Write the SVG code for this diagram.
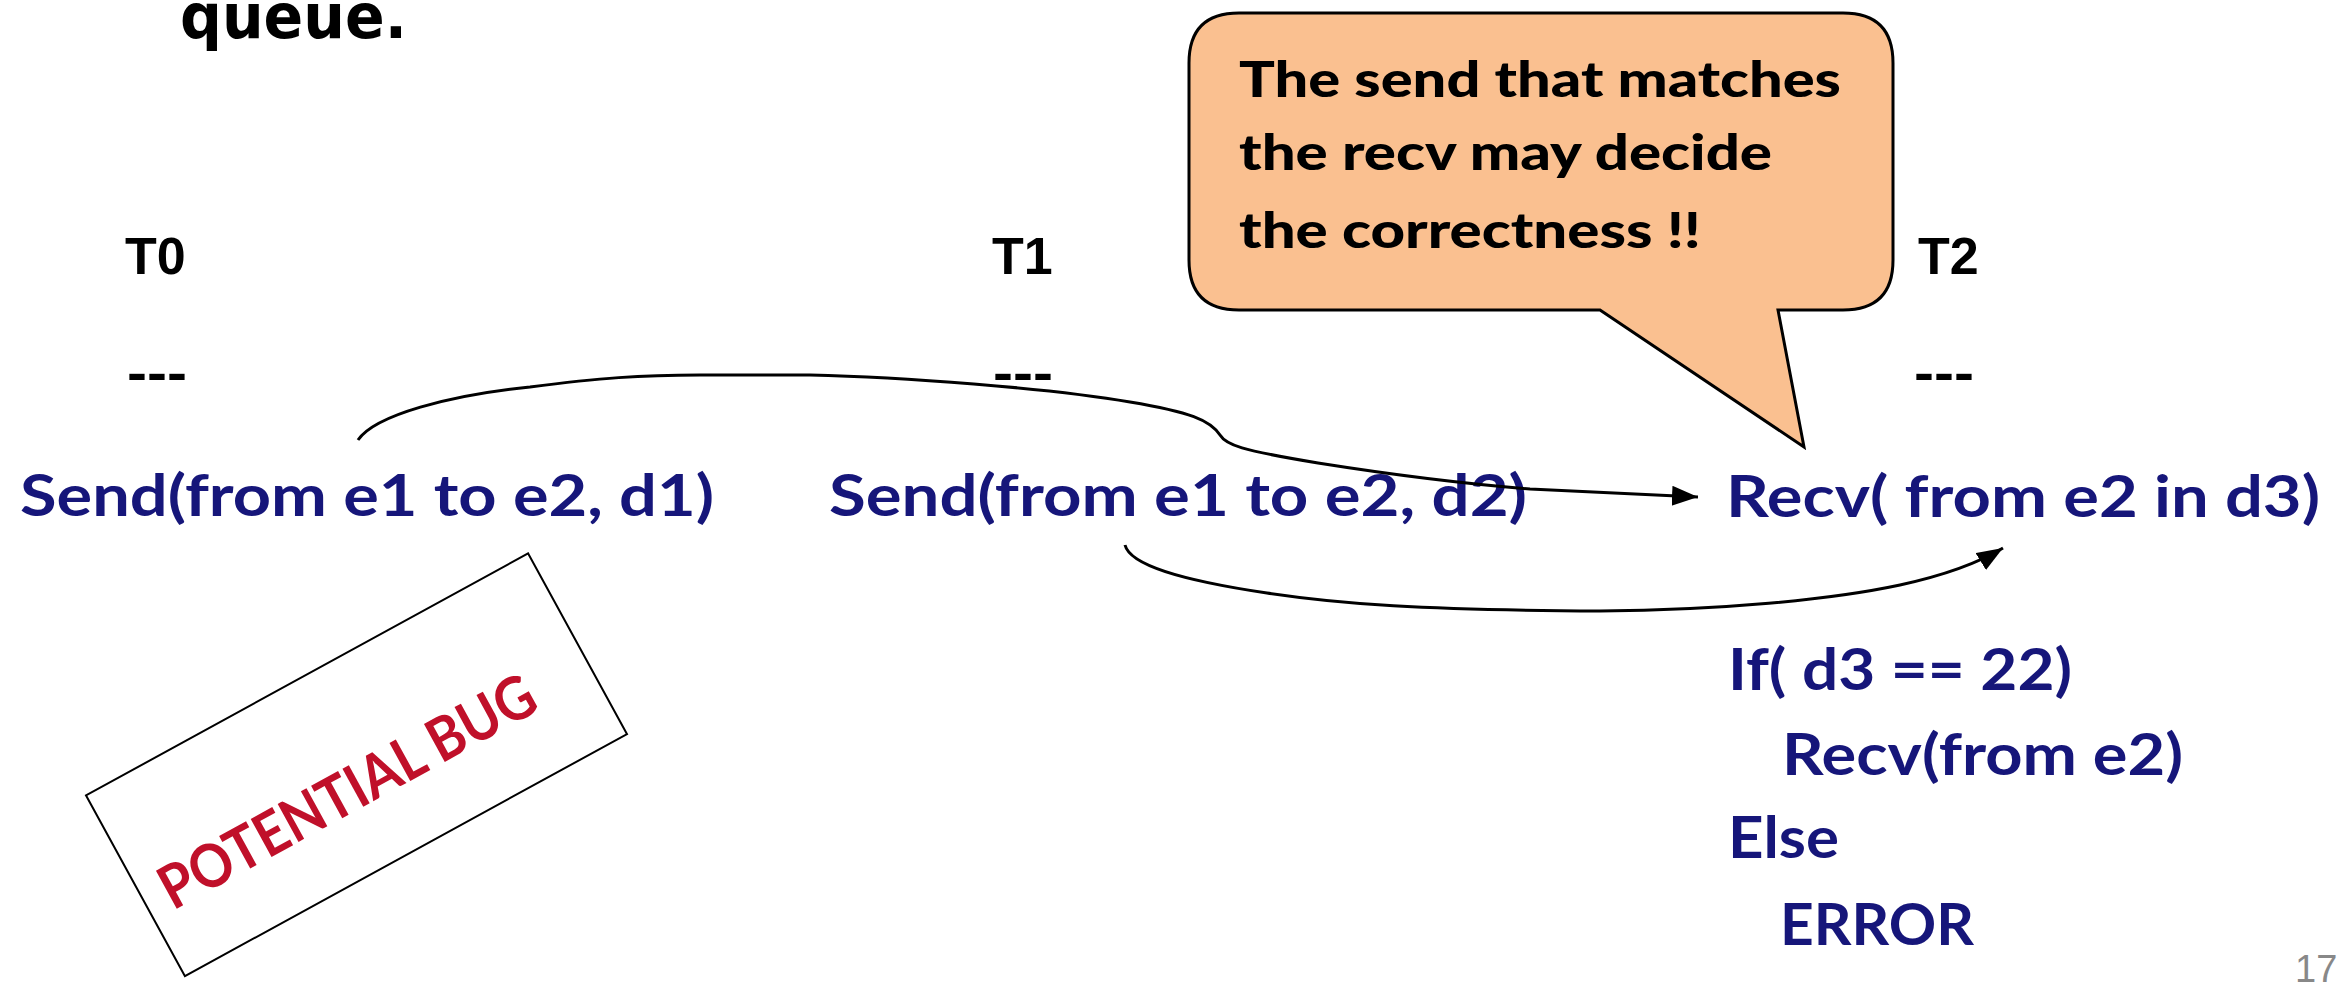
<svg xmlns="http://www.w3.org/2000/svg" width="2343" height="998" viewBox="0 0 2343 998">
  <defs>
    <style>
      .lbl { font-family: "Liberation Sans", Arial, sans-serif; font-weight: bold; font-size: 52px; fill: #000; }
      .code { font-family: Lato, "Open Sans", sans-serif; font-weight: bold; font-size: 58px; fill: #16167a; }
      .bub { font-family: Lato, "Open Sans", sans-serif; font-weight: 900; font-size: 49px; fill: #000; }
      .conn { fill: none; stroke: #000; stroke-width: 3; }
    </style>
    <marker id="arr" markerUnits="userSpaceOnUse" markerWidth="30" markerHeight="24" refX="26" refY="10" orient="auto">
      <path d="M0,0 L26,10 L0,20 Z" fill="#000"/>
    </marker>
  </defs>
  <rect width="2343" height="998" fill="#fff"/>

  <text x="180" y="38" font-family="DejaVu Sans, sans-serif" font-weight="bold" font-size="62" textLength="227" lengthAdjust="spacingAndGlyphs" fill="#000">queue.</text>

  <g id="t0">
    <text class="lbl" x="125" y="274">T0</text>
    <text class="lbl" x="127" y="390" textLength="60" lengthAdjust="spacingAndGlyphs">---</text>
    <text class="code" x="20" y="516" textLength="694" lengthAdjust="spacingAndGlyphs">Send(from e1 to e2, d1)</text>
  </g>
  <g id="t1">
    <text class="lbl" x="992" y="274">T1</text>
    <text class="lbl" x="993" y="390" textLength="60" lengthAdjust="spacingAndGlyphs">---</text>
    <text class="code" x="829" y="516" textLength="698" lengthAdjust="spacingAndGlyphs">Send(from e1 to e2, d2)</text>
  </g>
  <g id="t2">
    <text class="lbl" x="1918" y="274">T2</text>
    <text class="lbl" x="1914" y="390" textLength="60" lengthAdjust="spacingAndGlyphs">---</text>
    <text class="code" x="1726" y="517" textLength="594" lengthAdjust="spacingAndGlyphs">Recv( from e2 in d3)</text>
    <text class="code" x="1728" y="690" textLength="344" lengthAdjust="spacingAndGlyphs">If( d3 == 22)</text>
    <text class="code" x="1782" y="775" textLength="401" lengthAdjust="spacingAndGlyphs">Recv(from e2)</text>
    <text class="code" x="1728" y="858" textLength="111" lengthAdjust="spacingAndGlyphs">Else</text>
    <text class="code" x="1780" y="945" textLength="194" lengthAdjust="spacingAndGlyphs">ERROR</text>
  </g>

  <g id="callout">
    <path d="M1239,13 H1843 Q1893,13 1893,63 V260 Q1893,310 1843,310 H1778 L1804,447 L1600,310 H1239 Q1189,310 1189,260 V63 Q1189,13 1239,13 Z" fill="#fac090" stroke="#000" stroke-width="3"/>
    <text class="bub" x="1239" y="97" textLength="602" lengthAdjust="spacingAndGlyphs">The send that matches</text>
    <text class="bub" x="1239" y="170" textLength="533" lengthAdjust="spacingAndGlyphs">the recv may decide</text>
    <text class="bub" x="1239" y="248" textLength="462" lengthAdjust="spacingAndGlyphs">the correctness !!</text>
  </g>

  <g id="potential-bug" transform="translate(356.5,764.75) rotate(-28.7)">
    <rect x="-252" y="-103" width="504" height="206" fill="#fff" stroke="#000" stroke-width="2"/>
    <text x="-21" y="40" text-anchor="middle" font-family="Lato, 'Open Sans', sans-serif" font-weight="bold" font-size="60" fill="#c0102a" textLength="420" lengthAdjust="spacingAndGlyphs">POTENTIAL BUG</text>
  </g>

  <g id="connectors">
    <path class="conn" marker-end="url(#arr)" d="M358,440 C375,415 450,395 530,387 C600,378 640,375 700,375 L810,375 C900,377 1050,388 1130,402 C1190,412 1210,420 1220,435 C1226,445 1240,450 1318,463 C1400,476 1480,485 1530,489 L1698,497"/>
    <path class="conn" marker-end="url(#arr)" d="M1125,545 C1130,565 1180,580 1267,593 C1340,604 1420,610 1600,611 C1720,610 1830,600 1900,585 C1950,574 1980,562 2003,548"/>
  </g>

  <text x="2295" y="982" font-family="Liberation Sans, Arial, sans-serif" font-size="38" fill="#888">17</text>
</svg>
